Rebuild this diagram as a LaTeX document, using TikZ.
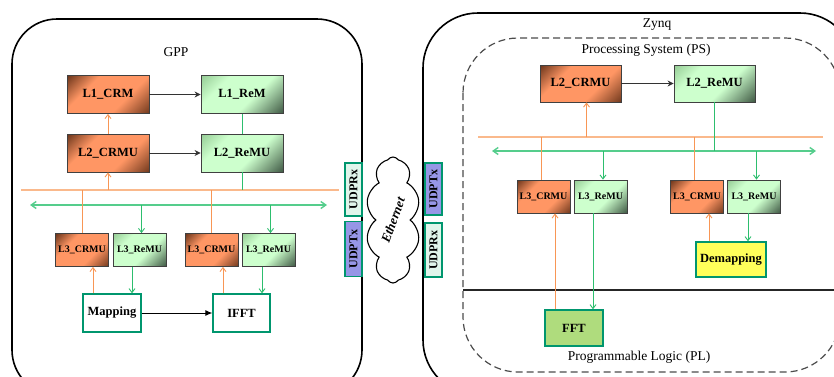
\documentclass[tikz,border=0pt]{standalone}
\usepackage{fontspec}
\setmainfont{Liberation Serif}
\usetikzlibrary{arrows.meta,shapes.symbols}

\definecolor{crmdark}{RGB}{110,55,28}
\definecolor{crmmid}{RGB}{255,150,100}
\definecolor{remtop}{RGB}{150,205,150}
\definecolor{remlight}{RGB}{205,255,205}
\definecolor{remdark}{RGB}{60,85,65}
\definecolor{orng}{RGB}{248,150,85}
\definecolor{orngbus}{RGB}{250,185,140}
\definecolor{grn}{RGB}{45,190,110}
\definecolor{grnbus}{RGB}{85,205,140}
\definecolor{tealb}{RGB}{0,150,110}
\definecolor{udptx}{RGB}{150,150,230}
\definecolor{udprx}{RGB}{225,245,235}
\definecolor{demap}{RGB}{255,255,90}
\definecolor{fftfill}{RGB}{175,220,125}

\pgfdeclarehorizontalshading{crmshade}{100bp}{color(0bp)=(crmdark); color(15bp)=(crmdark); color(34bp)=(crmmid); color(63bp)=(crmmid); color(86bp)=(crmdark); color(100bp)=(crmdark)}
\pgfdeclarehorizontalshading{remshade}{100bp}{color(0bp)=(remtop); color(15bp)=(remtop); color(32bp)=(remlight); color(58bp)=(remlight); color(86bp)=(remdark); color(100bp)=(remdark)}

\tikzset{
  unit/.style={draw=black!75, line width=0.8pt, inner sep=0pt, font=\bfseries\fontsize{12.5}{12.5}\selectfont},
  crm/.style={unit, shade, shading=crmshade, shading angle=-45, minimum width=82pt, minimum height=38pt},
  rem/.style={unit, shade, shading=remshade, shading angle=-45, minimum width=82pt, minimum height=38pt},
  small/.style={minimum width=53pt, minimum height=33pt, font=\bfseries\fontsize{10}{10}\selectfont},
  block/.style={draw=tealb, line width=1.4pt, inner sep=0pt, font=\bfseries\fontsize{12.5}{12.5}\selectfont, minimum width=58pt, minimum height=38pt},
  udp/.style={draw=tealb, line width=1.2pt, inner sep=0pt, rotate=90, minimum height=17pt, font=\bfseries\fontsize{12}{12}\selectfont},
  title/.style={font=\fontsize{13.5}{13.5}\selectfont},
  oarr/.style={orng, line width=0.9pt, -{Straight Barb[length=4pt,width=6pt]}},
  garr/.style={grn, line width=0.9pt, -{Straight Barb[length=4pt,width=6pt]}},
  karr/.style={black!80, line width=0.9pt, -{Stealth[length=6pt,width=6pt]}}
}

\begin{document}
\begin{tikzpicture}[x=1pt,y=-1pt]
  \useasboundingbox (0,0) rectangle (834,376);
  \clip (0,0) rectangle (834,376);

  % outer frames
  \draw[line width=1.6pt, rounded corners=45pt] (12,19) rectangle (362,395);
  \draw[line width=1.6pt, rounded corners=55pt] (423,13) rectangle (855,395);
  \draw[black!70, line width=1.2pt, dash pattern=on 7pt off 4pt, rounded corners=55pt] (463,38) rectangle (840,372);
  \draw[black!85, line width=1.6pt] (463,290) -- (834,290);

  \node[title] (gpp) at (176,52) {GPP};
  \node[title] (zynq) at (657,25) {Zynq};
  \node[title] (ps) at (646,50) {Processing System (PS)};
  \node[title] (pl) at (639,357) {Programmable Logic (PL)};

  % GPP side
  \node[crm] (l1crm) at (108,94.5) {L1\_CRM};
  \node[rem] (l1rem) at (242,94.5) {L1\_ReM};
  \node[crm] (l2crmu) at (108,153) {L2\_CRMU};
  \node[rem] (l2remu) at (242,153) {L2\_ReMU};
  \node[crm, small] (l3crmuA) at (82,250) {L3\_CRMU};
  \node[rem, small] (l3remuA) at (139.5,250) {L3\_ReMU};
  \node[crm, small] (l3crmuB) at (211.5,250) {L3\_CRMU};
  \node[rem, small] (l3remuB) at (268.5,250) {L3\_ReMU};
  \node[block] (mapping) at (112,313) {Mapping};
  \node[block, minimum width=57pt] (ifft) at (241.5,313) {IFFT};

  \coordinate (obusL) at (21,190);
  \coordinate (obusR) at (339,190);
  \coordinate (gbusL) at (30,205);
  \coordinate (gbusR) at (327,205);
  \draw[orngbus, line width=1.4pt] (obusL) -- (obusR);
  \draw[grnbus, line width=1.4pt, {Straight Barb[length=5pt,width=7pt]}-{Straight Barb[length=5pt,width=7pt]}] (gbusL) -- (gbusR);

  \draw[karr] (l1crm) -- (l1rem);
  \draw[karr] (l2crmu) -- (l2remu);
  \draw[oarr] (l2crmu) -- (l1crm);
  \draw[oarr] (l2crmu.south |- obusL) -- (l2crmu.south);
  \draw[grn, line width=0.9pt] (l1rem) -- (l2remu);
  \draw[grn, line width=0.9pt] (l2remu.south) -- (l2remu.south |- obusL);
  \foreach \n in {l3crmuA,l3crmuB}
    \draw[orng, line width=0.9pt] (\n.north) -- (\n.north |- obusL);
  \foreach \n in {l3remuA,l3remuB}
    \draw[garr] ([xshift=2pt]\n.north |- gbusL) -- ([xshift=2pt]\n.north);
  \draw[oarr] ([xshift=11pt]l3crmuA.south |- mapping.north) -- ([xshift=11pt]l3crmuA.south);
  \draw[garr] ([xshift=-7.5pt]l3remuA.south) -- ([xshift=-7.5pt]l3remuA.south |- mapping.north);
  \draw[oarr] ([xshift=11.5pt]l3crmuB.south |- ifft.north) -- ([xshift=11.5pt]l3crmuB.south);
  \draw[garr] ([xshift=-6.5pt]l3remuB.south) -- ([xshift=-6.5pt]l3remuB.south |- ifft.north);
  \draw[black, line width=0.9pt, -{Latex[length=7pt,width=6pt]}] (mapping) -- (ifft);

  % link
  \node[udp, fill=udprx, minimum width=53pt] (rxL) at (353.5,189.5) {UDPRx};
  \node[udp, fill=udptx, minimum width=55pt] (txL) at (353.5,249) {UDPTx};
  \node[udp, fill=udptx, minimum width=52pt] (txR) at (433.5,189) {UDPTx};
  \node[udp, fill=udprx, minimum width=54pt] (rxR) at (433.5,250) {UDPRx};
  \node[cloud, draw, fill=white, line width=1.1pt, cloud puffs=10, cloud puff arc=115, cloud ignores aspect,
        minimum width=54pt, minimum height=126pt, inner sep=0pt,
        font=\bfseries\itshape\fontsize{13}{13}\selectfont] (eth) at (393,220) {\rotatebox{70}{Ethernet}};

  % Zynq side
  \node[crm, minimum width=81pt, minimum height=37pt] (zl2crmu) at (580.5,83.5) {L2\_CRMU};
  \node[rem, minimum width=81pt, minimum height=37pt] (zl2remu) at (714.5,83.5) {L2\_ReMU};
  \node[crm, small] (zl3crmuA) at (543.5,196.5) {L3\_CRMU};
  \node[rem, small] (zl3remuA) at (600.5,196.5) {L3\_ReMU};
  \node[crm, small] (zl3crmuB) at (697,196.5) {L3\_CRMU};
  \node[rem, small] (zl3remuB) at (754,196.5) {L3\_ReMU};
  \node[block, fill=demap, minimum width=70pt, minimum height=35pt] (demapping) at (731,259.5) {Demapping};
  \node[block, fill=fftfill, minimum height=36pt] (fft) at (574,328) {FFT};

  \coordinate (zobusL) at (478,137);
  \coordinate (zobusR) at (823,137);
  \coordinate (zgbusL) at (492,151);
  \coordinate (zgbusR) at (816,151);
  \draw[orngbus, line width=1.4pt] (zobusL) -- (zobusR);
  \draw[grnbus, line width=1.4pt, {Straight Barb[length=5pt,width=7pt]}-{Straight Barb[length=5pt,width=7pt]}] (zgbusL) -- (zgbusR);

  \draw[karr] (zl2crmu) -- (zl2remu);
  \draw[oarr] ([xshift=6pt]zl2crmu.south |- zobusL) -- ([xshift=6pt]zl2crmu.south);
  \draw[grn, line width=0.9pt] (zl2remu.south) -- (zl2remu.south |- zgbusL);
  \foreach \n in {zl3crmuA,zl3crmuB}
    \draw[orng, line width=0.9pt] ([xshift=-2.5pt]\n.north) -- ([xshift=-2.5pt]\n.north |- zobusL);
  \foreach \n in {zl3remuA,zl3remuB}
    \draw[garr] ([xshift=2.5pt]\n.north |- zgbusL) -- ([xshift=2.5pt]\n.north);
  \draw[oarr] ([xshift=12pt]zl3crmuB.south |- demapping.north) -- ([xshift=12pt]zl3crmuB.south);
  \draw[garr] ([xshift=-6pt]zl3remuB.south) -- ([xshift=-6pt]zl3remuB.south |- demapping.north);
  \draw[oarr] ([xshift=11.5pt]zl3crmuA.south |- fft.north) -- ([xshift=11.5pt]zl3crmuA.south);
  \draw[garr] ([xshift=-7.5pt]zl3remuA.south) -- ([xshift=-7.5pt]zl3remuA.south |- fft.north);
\end{tikzpicture}
\end{document}
